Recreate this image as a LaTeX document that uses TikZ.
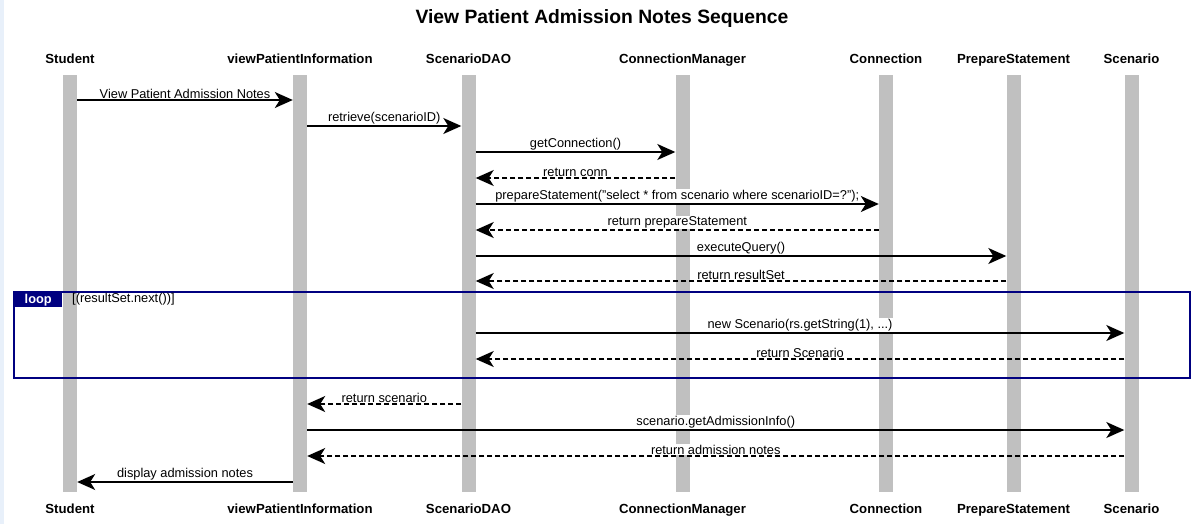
\documentclass[tikz,border=0pt]{standalone}
\usepackage{fontspec}
\setmainfont{Liberation Sans}
\usetikzlibrary{arrows.meta}
\definecolor{lifegray}{RGB}{192,192,192}
\definecolor{loopblue}{RGB}{0,0,128}
\definecolor{edgeblue}{RGB}{232,240,250}
\tikzset{
  lifeline/.style={fill=lifegray, minimum width=14pt, minimum height=417pt, inner sep=0pt},
  actor/.style={anchor=base, font=\fontsize{13.2}{15}\selectfont\bfseries},
  call/.style={line width=1.4pt, -{Stealth[length=18pt,width=16pt,inset=5pt]}},
  reply/.style={call, dash pattern=on 5pt off 3pt},
  msg/.style={above, fill=white, inner sep=1pt, font=\fontsize{12.8}{14}\selectfont},
}

\begin{document}
\begin{tikzpicture}[x=1pt,y=-1pt]
\useasboundingbox[fill=white] (0,0) rectangle (1197,524);
\fill[edgeblue] (0,0) rectangle (4,524);
\node[font=\fontsize{19.3}{22}\selectfont\bfseries] (title) at (602,19) {View Patient Admission Notes Sequence};
% lifelines
\foreach \id/\x/\name in {stu/70/Student, vpi/300/viewPatientInformation, dao/468.5/ScenarioDAO,
  cm/682.5/ConnectionManager, con/886/Connection, ps/1013.5/PrepareStatement, sc/1131.5/Scenario}{
  \node[lifeline] (\id) at (\x,283.5) {};
  \node[actor] (\id-top) at (\x,63.5) {\name};
  \node[actor] (\id-bot) at (\x,513.5) {\name};
}
% messages
\draw[call] (stu.east |- 0,100) -- node[msg] (m1) {View Patient Admission Notes} (vpi.west |- 0,100);
\draw[call] (vpi.east |- 0,126) -- node[msg] (m2) {retrieve(scenarioID)} (dao.west |- 0,126);
\draw[call] (dao.east |- 0,152) -- node[msg] (m3) {getConnection()} (cm.west |- 0,152);
\draw[reply] (cm.west |- 0,178) -- node[msg] (m4) {return conn} (dao.east |- 0,178);
\draw[call] (dao.east |- 0,204) -- node[msg] (m5) {prepareStatement("select * from scenario where scenarioID=?");} (con.west |- 0,204);
\draw[reply] (con.west |- 0,230) -- node[msg] (m6) {return prepareStatement} (dao.east |- 0,230);
\draw[call] (dao.east |- 0,256) -- node[msg] (m7) {executeQuery()} (ps.west |- 0,256);
\draw[reply] (ps.west |- 0,281) -- node[msg] (m8) {return resultSet} (dao.east |- 0,281);
% loop frame
\draw[loopblue, line width=2pt] (14,292) rectangle (1190,378);
\node[fill=loopblue, text=white, font=\fontsize{12.8}{14}\selectfont\bfseries, anchor=north west,
  minimum width=48pt, minimum height=15pt, inner sep=0pt] (looptag) at (14,292) {loop\hspace{4pt}};
\node[anchor=west, inner sep=0pt, font=\fontsize{12.8}{14}\selectfont] (guard) at (72,299) {[(resultSet.next())]};
\draw[call] (dao.east |- 0,333) -- node[msg] (m9) {new Scenario(rs.getString(1), ...)} (sc.west |- 0,333);
\draw[reply] (sc.west |- 0,359) -- node[msg] (m10) {return Scenario} (dao.east |- 0,359);
% after loop
\draw[reply] (dao.west |- 0,404) -- node[msg] (m11) {return scenario} (vpi.east |- 0,404);
\draw[call] (vpi.east |- 0,430) -- node[msg] (m12) {scenario.getAdmissionInfo()} (sc.west |- 0,430);
\draw[reply] (sc.west |- 0,456) -- node[msg] (m13) {return admission notes} (vpi.east |- 0,456);
\draw[call] (vpi.west |- 0,482) -- node[msg] (m14) {display admission notes} (stu.east |- 0,482);
\end{tikzpicture}
\end{document}
